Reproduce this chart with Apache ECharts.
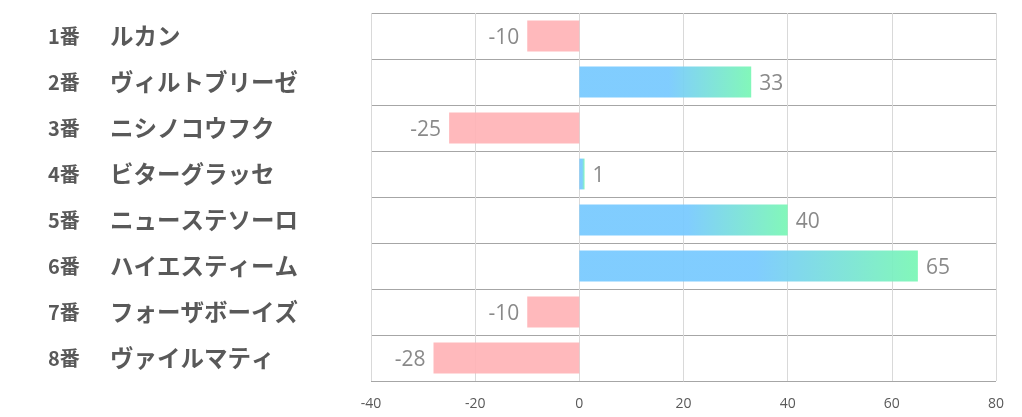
<!DOCTYPE html>
<html><head><meta charset="utf-8">
<script src="https://cdn.jsdelivr.net/npm/echarts@6/dist/echarts.min.js"></script>
<style>html,body{margin:0;padding:0;background:#fff}#c{width:1022px;height:417px}</style>
</head><body><div id="c"></div>
<script>
const nums = ['1番','2番','3番','4番','5番','6番','7番','8番'];
const names = ['ルカン','ヴィルトブリーゼ','ニシノコウフク','ビターグラッセ','ニューステソーロ','ハイエスティーム','フォーザボーイズ','ヴァイルマティ'];
const values = [-10, 33, -25, 1, 40, 65, -10, -28];
const xTicks = [-40, -20, 0, 20, 40, 60, 80];

const cats = nums.map((n,i)=>n+'|'+names[i]);
const grad = new echarts.graphic.LinearGradient(0,0,1,0,[
  {offset:0,color:'#76c9ff'},{offset:0.52,color:'#76c9ff'},{offset:1,color:'#78f7b4'}]);
const data = values.map(v=>({
  value:v,
  itemStyle:{color: v<0 ? '#ffb3b6' : grad, opacity:0.92},
  label:{position: v<0 ? 'left' : 'right'}
}));
const chart = echarts.init(document.getElementById('c'), null, {renderer:'canvas'});
chart.setOption({
  animation:false,
  grid:{left:371, right:26, top:13, bottom:36, containLabel:false},
  xAxis:{type:'value', min:xTicks[0], max:xTicks[xTicks.length-1], interval:20,
    axisLine:{show:false}, axisTick:{show:false},
    axisLabel:{color:'#595959', fontSize:14, margin:16, fontFamily:'Open Sans', showMinLabel:true, showMaxLabel:true},
    splitLine:{show:true, lineStyle:{color:'#d9d9d9', width:1}}},
  yAxis:{type:'category', inverse:true, data:cats,
    axisLine:{show:false}, axisTick:{show:false},
    splitLine:{show:true, lineStyle:{color:'#a6a6a6', width:1}},
    axisLabel:{align:'left', margin:323, color:'#595959',
      formatter:function(v){const p=v.split('|');return '{n|'+p[0]+'}{m|'+p[1]+'}';},
      rich:{n:{width:62, fontSize:20, fontWeight:'bold', color:'#595959', fontFamily:'Noto Sans CJK JP'},
            m:{fontSize:23.5, fontWeight:'bold', color:'#595959', fontFamily:'Noto Sans CJK JP'}}}},
  series:[{type:'bar', data:data, barCategoryGap:'33%',
    label:{show:true, color:'#7f7f7f', fontSize:21, distance:8, fontFamily:'Open Sans', offset:[0,2]}}]
});
</script></body></html>
